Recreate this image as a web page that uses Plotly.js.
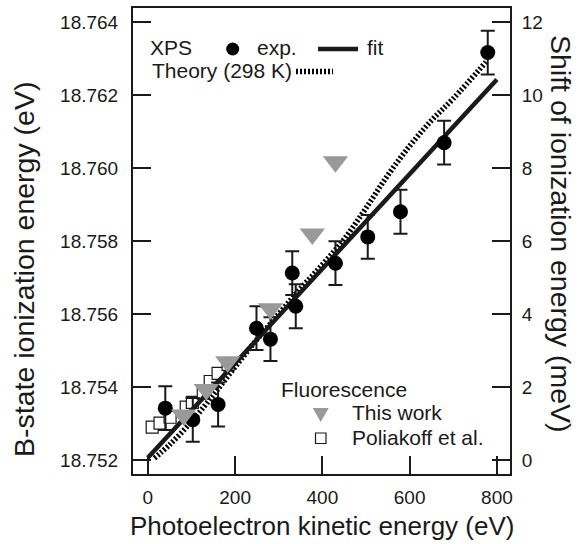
<!DOCTYPE html>
<html>
<head>
<meta charset="utf-8">
<script src="https://cdn.plot.ly/plotly-3.0.1.min.js"></script>
<style>
html,body{margin:0;padding:0;background:#fff;}
#chart{width:585px;height:544px;}
</style>
</head>
<body>
<div id="chart"></div>
<script>
// ---- data (shift in meV relative to 18.752 eV) ----
const baseEnergy = 18.752;
const xpsX = [40, 103, 161, 249, 281, 331, 339, 430, 504, 579, 679, 779];
const xpsY = [1.42, 1.10, 1.52, 3.61, 3.31, 5.12, 4.21, 5.39, 6.11, 6.80, 8.69, 11.16];
const xpsErr = [0.6, 0.6, 0.6, 0.6, 0.6, 0.6, 0.6, 0.6, 0.6, 0.6, 0.6, 0.6];
const fitX = [0, 800];
const fitY = [0.06, 10.42];
const theoryX = [15, 50, 100, 150, 200, 250, 300, 350, 400, 450, 500, 550, 600, 650, 700, 775];
const theoryY = [0.05, 0.42, 1.05, 1.78, 2.55, 3.3, 4.0, 4.7, 5.35, 6.05, 6.9, 7.8, 8.6, 9.3, 9.9, 10.9];
const thisWorkX = [82, 134, 183, 281, 377, 430];
const thisWorkY = [1.23, 1.93, 2.69, 4.14, 6.19, 8.17];
const poliakoffX = [10, 28, 51, 88, 102, 127, 143, 161, 184];
const poliakoffY = [0.9, 1.01, 1.17, 1.45, 1.58, 1.83, 2.15, 2.37, 2.62];
const xTicks = [0, 200, 400, 600, 800];
const yLeftTicks = [18.752, 18.754, 18.756, 18.758, 18.760, 18.762, 18.764];
const yRightTicks = [0, 2, 4, 6, 8, 10, 12];

// ---- layout geometry ----
const W = 585, H = 544;
const L = 133, R = 510, T = 8, B = 474;
const xRange = [-34, 830];
const y2Range = [-0.384, 12.38];
const yRange = [baseEnergy + y2Range[0] / 1000, baseEnergy + y2Range[1] / 1000];
const PX = px => (px - L) / (R - L);
const PY = py => (B - py) / (B - T);

const font = 'Arial, "Liberation Sans", Helvetica, sans-serif';
const ink = '#1a1a1a';
const dotted = '2px,2px';

const traces = [
  { x: [xRange[0]], y: [yRange[0]], yaxis: 'y', mode: 'markers',
    marker: { opacity: 0 }, hoverinfo: 'skip', showlegend: false },
  { x: poliakoffX, y: poliakoffY, yaxis: 'y2', mode: 'markers',
    marker: { symbol: 'square', size: 12, color: '#ffffff', line: { color: ink, width: 1.2 } } },
  { x: theoryX, y: theoryY, yaxis: 'y2', mode: 'lines',
    line: { color: '#000', width: 5.5, dash: dotted, shape: 'spline' } },
  { x: fitX, y: fitY, yaxis: 'y2', mode: 'lines',
    line: { color: ink, width: 4.5 } },
  { x: xpsX, y: xpsY, yaxis: 'y2', mode: 'markers',
    marker: { symbol: 'circle', size: 15, color: '#000' },
    error_y: { type: 'data', array: xpsErr, visible: true, thickness: 2, width: 7, color: ink } },
  { x: thisWorkX, y: thisWorkY, yaxis: 'y2', mode: 'markers',
    marker: { symbol: 'triangle-down', size: 22, color: '#999999' } }
];

const axisCommon = {
  showline: true, linecolor: ink, linewidth: 2,
  ticks: 'inside', ticklen: 18, tickwidth: 2, tickcolor: ink,
  showgrid: false, zeroline: false,
  tickfont: { family: font, size: 19, color: ink }
};

const layout = {
  width: W, height: H,
  margin: { l: L, r: W - R, t: T, b: H - B, pad: 0 },
  paper_bgcolor: '#fff', plot_bgcolor: '#fff',
  showlegend: false,
  xaxis: Object.assign({}, axisCommon, {
    range: xRange, tickvals: xTicks, mirror: true, ticklabelstandoff: 5
  }),
  yaxis: Object.assign({}, axisCommon, {
    range: yRange, tickvals: yLeftTicks, tickformat: '.3f', ticklabelstandoff: 9
  }),
  yaxis2: Object.assign({}, axisCommon, {
    range: y2Range, tickvals: yRightTicks, overlaying: 'y', side: 'right', ticklabelstandoff: 6
  }),
  annotations: [],
  shapes: []
};

function label(text, px, py, anchor, size, angle) {
  layout.annotations.push({
    xref: 'paper', yref: 'paper', x: PX(px), y: PY(py), text: text,
    showarrow: false, xanchor: anchor || 'left', yanchor: 'middle',
    textangle: angle || 0,
    font: { family: font, size: size || 21, color: ink }
  });
}
// axis titles
label('Photoelectron kinetic energy (eV)', 322, 526, 'center', 26);
label('B-state ionization energy (eV)', 24, 270, 'center', 28.5, -90);
label('Shift of ionization energy (meV)', 561, 234, 'center', 28.5, 90);
// XPS legend
label('XPS', 148, 48);
label('exp.', 255, 48);
label('fit', 365, 48);
label('Theory (298 K)', 150, 71);
// Fluorescence legend
label('Fluorescence', 279, 389);
label('This work', 350, 412);
label('Poliakoff et al.', 350, 437);

// legend marks
const r = 6.5;
layout.shapes.push({ type: 'circle', xref: 'paper', yref: 'paper',
  x0: PX(232.7 - r), x1: PX(232.7 + r), y0: PY(49 + r), y1: PY(49 - r),
  fillcolor: '#000', line: { width: 0 } });
layout.shapes.push({ type: 'line', xref: 'paper', yref: 'paper',
  x0: PX(318), x1: PX(358), y0: PY(49), y1: PY(49), line: { color: ink, width: 4.5 } });
layout.shapes.push({ type: 'line', xref: 'paper', yref: 'paper',
  x0: PX(296), x1: PX(333), y0: PY(71.5), y1: PY(71.5), line: { color: '#000', width: 5.5, dash: dotted } });
// triangle
const tx = 320.7, ty = 414;
layout.shapes.push({ type: 'path', xref: 'paper', yref: 'paper',
  path: `M ${PX(tx - 8)} ${PY(ty - 6)} L ${PX(tx + 8)} ${PY(ty - 6)} L ${PX(tx)} ${PY(ty + 8)} Z`,
  fillcolor: '#999999', line: { width: 0 } });
// square
layout.shapes.push({ type: 'rect', xref: 'paper', yref: 'paper',
  x0: PX(315.5), x1: PX(326), y0: PY(443.5), y1: PY(433),
  fillcolor: '#fff', line: { color: ink, width: 1.2 } });

Plotly.newPlot('chart', traces, layout, { staticPlot: true, displayModeBar: false });
</script>
</body>
</html>
